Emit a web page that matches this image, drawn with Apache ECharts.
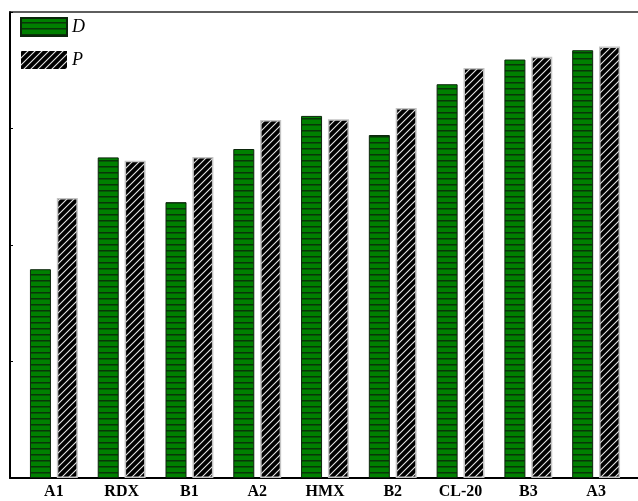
<!DOCTYPE html>
<html>
<head>
<meta charset="utf-8">
<script src="https://cdn.jsdelivr.net/npm/echarts@6/dist/echarts.min.js"></script>
<style>
  html, body { margin: 0; padding: 0; background: #fff; }
  #chart { width: 638px; height: 501px; }
</style>
</head>
<body>
<div id="chart"></div>
<script>
// Compounds along the horizontal axis
const categories = ['A1', 'RDX', 'B1', 'A2', 'HMX', 'B2', 'CL-20', 'B3', 'A3'];
// Relative detonation velocity (D) and detonation pressure (P), on a 0-100 scale
const valuesD = [44.8, 68.8, 59.2, 70.6, 77.7, 73.6, 84.5, 89.8, 91.8];
const valuesP = [60.1, 68.1, 68.9, 76.8, 77.0, 79.4, 88.0, 90.4, 92.6];
const seriesNames = ['D', 'P'];

// Horizontal striped green fill
function stripeFill() {
  const c = document.createElement('canvas');
  c.width = 6; c.height = 6;
  const g = c.getContext('2d');
  g.fillStyle = '#008000';
  g.fillRect(0, 0, 6, 6);
  g.fillStyle = '#083608';
  g.fillRect(0, 4, 6, 1);
  g.fillStyle = '#055805';
  g.fillRect(0, 5, 6, 1);
  return { image: c, repeat: 'repeat' };
}

// Black fill with light diagonal hatching
function hatchFill() {
  const s = 7;
  const c = document.createElement('canvas');
  c.width = s; c.height = s;
  const g = c.getContext('2d');
  g.fillStyle = '#000';
  g.fillRect(0, 0, s, s);
  g.strokeStyle = '#e6e6e6';
  g.lineWidth = 1.1;
  g.beginPath();
  g.moveTo(-1, s + 1); g.lineTo(s + 1, -1);
  g.moveTo(-1, 1); g.lineTo(1, -1);
  g.moveTo(s - 1, s + 1); g.lineTo(s + 1, s - 1);
  g.stroke();
  return { image: c, repeat: 'repeat' };
}

const chart = echarts.init(document.getElementById('chart'), null, { renderer: 'canvas' });

const serif = '"Liberation Serif", "Times New Roman", serif';

chart.setOption({
  animation: false,
  backgroundColor: '#fff',
  legend: {
    orient: 'vertical',
    left: 20,
    top: 17,
    padding: 0,
    itemWidth: 46,
    itemHeight: 18,
    itemGap: 14,
    icon: 'rect',
    textStyle: { fontFamily: serif, fontStyle: 'italic', fontSize: 18, color: '#000', padding: [0, 0, 0, 0] },
    data: [
      { name: seriesNames[0] },
      { name: seriesNames[1], itemStyle: { borderWidth: 0 } }
    ]
  },
  grid: [
    // frame
    { left: 10, right: -10, top: 12, bottom: 23 },
    // bars
    { left: 20, width: 610, top: 12, bottom: 23 }
  ],
  xAxis: [
    {
      type: 'value', gridIndex: 0, min: 0, max: 1, position: 'bottom',
      axisLine: { show: true, lineStyle: { color: '#000', width: 2 } },
      axisTick: { show: false }, axisLabel: { show: false }, splitLine: { show: false }
    },
    {
      type: 'value', gridIndex: 0, min: 0, max: 1, position: 'top',
      axisLine: { show: true, lineStyle: { color: '#2a2a2a', width: 1.5 } },
      axisTick: { show: false }, axisLabel: { show: false }, splitLine: { show: false }
    },
    {
      type: 'category', gridIndex: 1, data: categories,
      axisLine: { show: false }, axisTick: { show: false }, splitLine: { show: false },
      axisLabel: {
        margin: 6,
        fontFamily: serif, fontWeight: 'bold', fontSize: 16, color: '#000'
      }
    }
  ],
  yAxis: [
    {
      type: 'value', gridIndex: 0, min: 0, max: 100, interval: 25,
      axisLine: { show: true, lineStyle: { color: '#000', width: 2 } },
      axisTick: { show: true, inside: true, length: 3, lineStyle: { color: '#000', width: 1 } },
      axisLabel: { show: false }, splitLine: { show: false }
    },
    {
      type: 'value', gridIndex: 1, min: 0, max: 100, show: false
    }
  ],
  series: [
    {
      name: seriesNames[0], type: 'bar', xAxisIndex: 2, yAxisIndex: 1,
      data: valuesD, barWidth: 21, barGap: '28%',
      itemStyle: { color: stripeFill(), borderColor: '#0c260c', borderWidth: 1 }
    },
    {
      name: seriesNames[1], type: 'bar', xAxisIndex: 2, yAxisIndex: 1,
      data: valuesP, barWidth: 21, barGap: '28%',
      itemStyle: { color: hatchFill(), borderColor: '#c4c4c4', borderWidth: 1.5 }
    }
  ]
});
</script>
</body>
</html>
